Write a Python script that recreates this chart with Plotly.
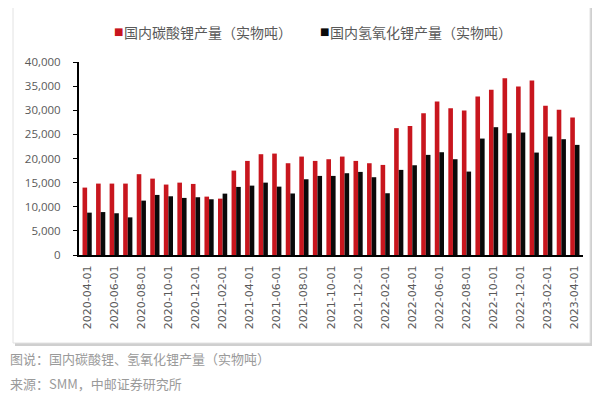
import plotly.graph_objects as go

months = [
    "2020-04-01", "2020-05-01", "2020-06-01", "2020-07-01", "2020-08-01", "2020-09-01",
    "2020-10-01", "2020-11-01", "2020-12-01", "2021-01-01", "2021-02-01", "2021-03-01",
    "2021-04-01", "2021-05-01", "2021-06-01", "2021-07-01", "2021-08-01", "2021-09-01",
    "2021-10-01", "2021-11-01", "2021-12-01", "2022-01-01", "2022-02-01", "2022-03-01",
    "2022-04-01", "2022-05-01", "2022-06-01", "2022-07-01", "2022-08-01", "2022-09-01",
    "2022-10-01", "2022-11-01", "2022-12-01", "2023-01-01", "2023-02-01", "2023-03-01",
    "2023-04-01",
]
carbonate = [
    13970, 14800, 14800, 14800, 16750, 15830, 14600, 15000, 14730, 12100, 11680, 17490,
    19500, 20890, 21020, 19020, 20400, 19500, 19850, 20400, 19500, 19020, 18670, 26290,
    26760, 29400, 31800, 30430, 29940, 32850, 34230, 36650, 34920, 36170, 30910, 30080,
    28490,
]
hydroxide = [
    8780, 8900, 8650, 7800, 11270, 12450, 12170, 11830, 11970, 11550, 12720, 14110,
    14380, 15000, 14170, 12750, 15700, 16390, 16390, 16950, 17220, 16120, 12800, 17640,
    18600, 20750, 21300, 19850, 17290, 24130, 26490, 25240, 25380, 21230, 24550, 24000,
    22820,
]
tick_labels = months[::2]
name_carbonate = "国内碳酸锂产量（实物吨）"
name_hydroxide = "国内氢氧化锂产量（实物吨）"
caption_lines = ["图说：国内碳酸锂、氢氧化锂产量（实物吨）", "来源：SMM，中邮证券研究所"]

CJK = "Noto Sans CJK SC, Noto Sans, sans-serif"
GRAY = "#595959"
RED = "#C8161E"
BLACK = "#0A0A0A"

# the page body has an 8px default margin; work in page pixels and shift
OFF = 8
W, H = 600 - OFF, 395 - OFF
L, R, T, B = 79 - OFF, 583 - OFF, 62 - OFF, 255 - OFF
PW, PH = R - L, B - T


def px(x):
    return (x - OFF - L) / PW


def py(y):
    return (B - (y - OFF)) / PH


fig = go.Figure()
fig.add_trace(go.Bar(x=months, y=carbonate, name=name_carbonate,
                     marker=dict(color=RED, line=dict(width=0))))
fig.add_trace(go.Bar(x=months, y=hydroxide, name=name_hydroxide,
                     marker=dict(color=BLACK, line=dict(width=0))))

fig.update_layout(
    width=W, height=H,
    margin=dict(l=L, r=W - R, t=T, b=H - B, autoexpand=False),
    paper_bgcolor="white", plot_bgcolor="white",
    barmode="group", bargap=0.32, bargroupgap=0.0,
    font=dict(family=CJK, color=GRAY),
    showlegend=False,
    xaxis=dict(type="category", tickmode="array", tickvals=tick_labels, ticktext=tick_labels,
               tickangle=-90, tickfont=dict(size=11, color=GRAY, family="DejaVu Sans, sans-serif"),
               showline=True, linecolor="black", linewidth=2, ticks="", showgrid=False,
               range=[-0.6, 36.6], automargin=False, ticklabelstandoff=4),
    yaxis=dict(range=[0, 40000], tickvals=list(range(0, 40001, 5000)), tickformat=",",
               tickfont=dict(size=11.5, color=GRAY, family="Open Sans, sans-serif"),
               showline=True, linecolor="black", linewidth=2, ticks="outside", ticklen=4,
               tickcolor="black", showgrid=False, zeroline=False, automargin=False,
               ticklabelstandoff=10),
)

# frame with light shadow
fig.add_shape(type="rect", xref="paper", yref="paper",
              x0=px(15), x1=px(592), y0=py(346), y1=py(8),
              line=dict(width=0), fillcolor="#CFCFCF", layer="below")
fig.add_shape(type="rect", xref="paper", yref="paper",
              x0=px(13), x1=px(590), y0=py(343), y1=py(5),
              line=dict(color="#E2E2E2", width=1), fillcolor="white", layer="below")

# legend drawn as annotations
legend_items = [(name_carbonate, RED, 112), (name_hydroxide, BLACK, 318)]
for name, color, x0 in legend_items:
    fig.add_annotation(text="■", xref="paper", yref="paper", x=px(x0), xanchor="left",
                       y=py(31.5), yanchor="middle", showarrow=False,
                       font=dict(size=10, color=color, family="DejaVu Sans"))
    fig.add_annotation(text=name, xref="paper", yref="paper", x=px(x0 + 10), xanchor="left",
                       y=py(31.5), yanchor="middle", showarrow=False,
                       font=dict(size=14, color=GRAY, family=CJK))

for i, line in enumerate(caption_lines):
    fig.add_annotation(text=line, xref="paper", yref="paper",
                       x=px(8), xanchor="left",
                       y=py(358 + 25 * i), yanchor="middle",
                       showarrow=False, font=dict(size=13, color="#9A9A9A", family=CJK))

fig.write_html("out.html")
